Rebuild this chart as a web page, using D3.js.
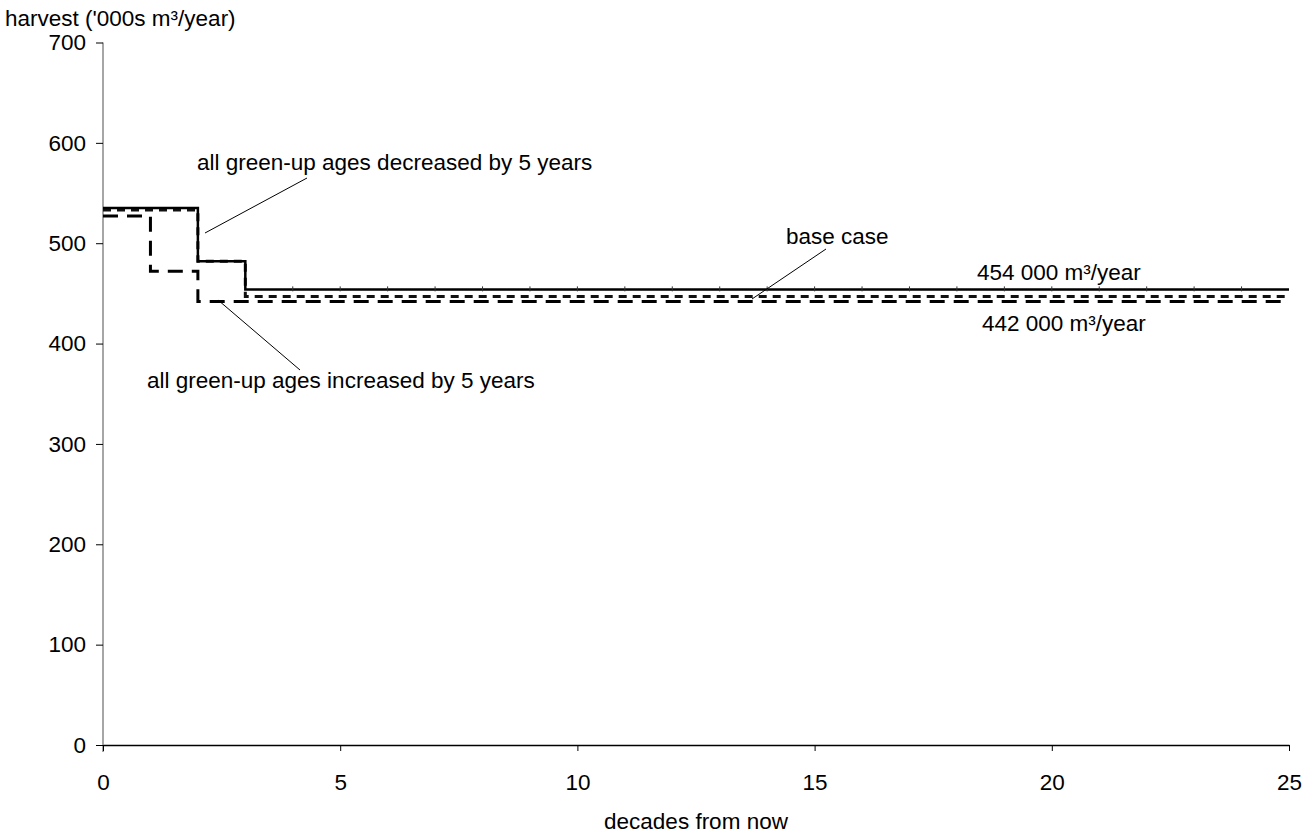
<!DOCTYPE html>
<html>
<head>
<meta charset="utf-8">
<script src="https://cdn.jsdelivr.net/npm/d3@7"></script>
<style>
  html, body { margin: 0; padding: 0; background: #fff; }
  svg { display: block; font-family: "Liberation Sans", Arial, sans-serif; }
</style>
</head>
<body>
<svg id="chart" width="1312" height="834"></svg>
<script>
// Annual harvest per decade ('000s m³/year), one value per decade 0..24
const decades = d3.range(0, 26);
const decreasedGreenUp = [535, 535, 482, 454, 454, 454, 454, 454, 454, 454, 454, 454, 454,
                          454, 454, 454, 454, 454, 454, 454, 454, 454, 454, 454, 454];
const baseCase        = [533, 533, 482, 447, 447, 447, 447, 447, 447, 447, 447, 447, 447,
                          447, 447, 447, 447, 447, 447, 447, 447, 447, 447, 447, 447];
const increasedGreenUp = [527, 472, 442, 442, 442, 442, 442, 442, 442, 442, 442, 442, 442,
                          442, 442, 442, 442, 442, 442, 442, 442, 442, 442, 442, 442];
const xTicks = [0, 5, 10, 15, 20, 25];
const yTicks = [0, 100, 200, 300, 400, 500, 600, 700];

const FONT = 22.5;
const svg = d3.select("#chart");
const x = d3.scaleLinear().domain([0, 25]).range([103, 1289]);
const y = d3.scaleLinear().domain([0, 700]).range([745, 42.5]);

// y axis: grey spine, black ticks
svg.append("line")
  .attr("x1", x(0)).attr("x2", x(0))
  .attr("y1", y(700)).attr("y2", y(0) + 7)
  .attr("stroke", "#888").attr("stroke-width", 1.5);

const yAxis = svg.append("g")
  .attr("transform", `translate(${x(0)},0)`)
  .call(d3.axisLeft(y).tickValues(yTicks).tickSize(7).tickPadding(10).tickFormat(d3.format("d")));
yAxis.select(".domain").remove();
yAxis.selectAll(".tick line").attr("stroke", "#000");
yAxis.selectAll(".tick text").attr("font-size", FONT).attr("fill", "#000")
  .style("font-family", "'Liberation Sans', Arial, sans-serif");

// x axis
const xAxis = svg.append("g")
  .attr("transform", `translate(0,${y(0)})`)
  .call(d3.axisBottom(x).tickValues(xTicks).tickSizeInner(6).tickSizeOuter(0).tickPadding(23));
xAxis.select(".domain").attr("stroke", "#000").attr("stroke-width", 1.5);
xAxis.selectAll(".tick line").attr("stroke", "#000");
xAxis.selectAll(".tick text").attr("font-size", FONT).attr("fill", "#000")
  .style("font-family", "'Liberation Sans', Arial, sans-serif");

// axis titles
svg.append("text").attr("x", 5).attr("y", 26).attr("font-size", FONT)
  .text("harvest ('000s m³/year)");
svg.append("text").attr("x", x(12.5)).attr("y", 829).attr("font-size", FONT)
  .attr("text-anchor", "middle").text("decades from now");

// step lines: each decade's value holds until the next decade
const stepPoints = vals => decades.map(i => [i, vals[Math.min(i, vals.length - 1)]]);
const line = d3.line().x(d => x(d[0])).y(d => y(d[1])).curve(d3.curveStepAfter);

svg.append("path").datum(stepPoints(baseCase))
  .attr("d", line).attr("fill", "none")
  .attr("stroke", "#111").attr("stroke-width", 3).attr("stroke-dasharray", "8,6");

svg.append("path").datum(stepPoints(increasedGreenUp))
  .attr("d", line).attr("fill", "none")
  .attr("stroke", "#000").attr("stroke-width", 3).attr("stroke-dasharray", "15,9");

svg.append("path").datum(stepPoints(decreasedGreenUp))
  .attr("d", line).attr("fill", "none")
  .attr("stroke", "#000").attr("stroke-width", 2.5);

// small decade markers along the solid line
svg.append("g").selectAll("line")
  .data(decades.slice(4, 25))
  .join("line")
  .attr("x1", d => x(d)).attr("x2", d => x(d))
  .attr("y1", d => y(decreasedGreenUp[d]) - 3).attr("y2", d => y(decreasedGreenUp[d]) + 2)
  .attr("stroke", "#333").attr("stroke-width", 1);

// annotations with leader lines
const notes = [
  { text: "all green-up ages decreased by 5 years", tx: 197, ty: 170, from: [307, 178], to: [205, 233] },
  { text: "base case", tx: 786, ty: 244, from: [826, 249], to: [752, 299] },
  { text: "454 000 m³/year", tx: 977, ty: 280 },
  { text: "442 000 m³/year", tx: 982, ty: 331 },
  { text: "all green-up ages increased by 5 years", tx: 147, ty: 388, from: [300, 370], to: [218, 300] }
];
notes.forEach(n => {
  svg.append("text").attr("x", n.tx).attr("y", n.ty).attr("font-size", FONT).text(n.text);
  if (n.from) {
    svg.append("line")
      .attr("x1", n.from[0]).attr("y1", n.from[1])
      .attr("x2", n.to[0]).attr("y2", n.to[1])
      .attr("stroke", "#000").attr("stroke-width", 1);
  }
});
</script>
</body>
</html>
